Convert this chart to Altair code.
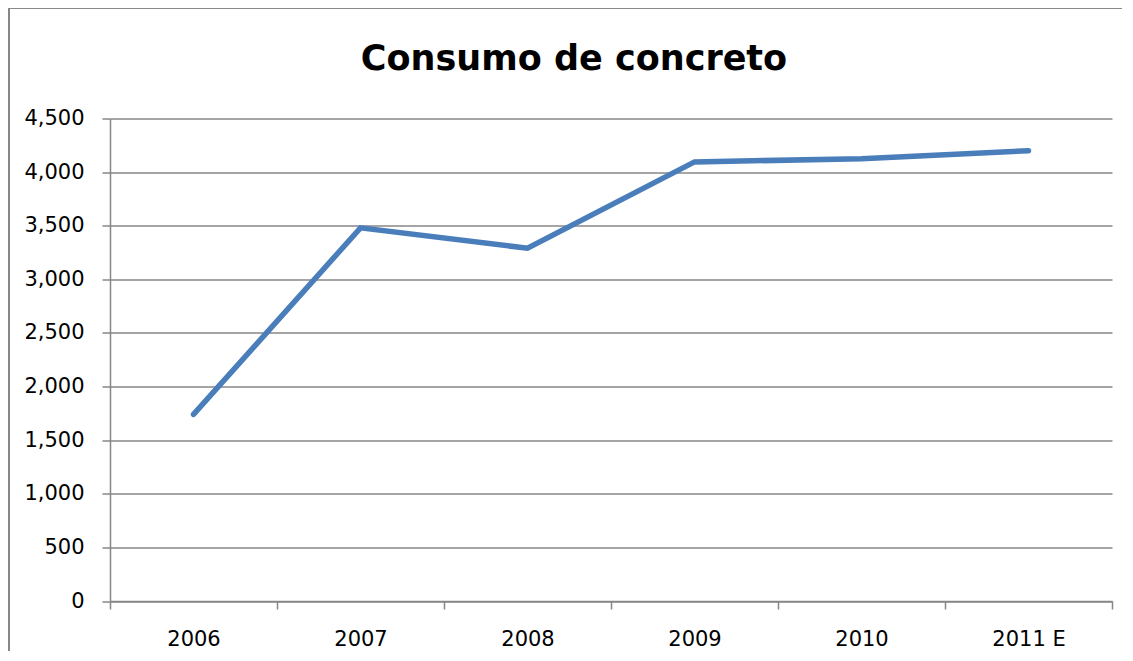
import altair as alt
import pandas as pd

years = ["2006", "2007", "2008", "2009", "2010", "2011 E"]
consumo = [1740, 3480, 3290, 4095, 4125, 4200]
y_ticks = [0, 500, 1000, 1500, 2000, 2500, 3000, 3500, 4000, 4500]
title_text = "Consumo de concreto"

df = pd.DataFrame({"year": years, "value": consumo})

GRAY = "#878787"
FONT = "DejaVu Sans"
W, H = 1002, 482.5

line = alt.Chart(df).mark_line(
    color="#4a7ebb", strokeWidth=5.5, strokeCap="round", strokeJoin="miter"
).encode(
    x=alt.X("year:N", sort=years, bandPosition=0.5,
            scale=alt.Scale(type="band", paddingInner=0, paddingOuter=0),
            axis=alt.Axis(title=None, labelAngle=0, tickBand="extent", grid=False,
                          domainColor=GRAY, domainWidth=1.5, tickColor=GRAY,
                          tickWidth=1.5, tickSize=8, labelPadding=19,
                          labelFont=FONT, labelFontSize=21, labelColor="#000000")),
    y=alt.Y("value:Q",
            scale=alt.Scale(domain=[0, 4500], nice=False),
            axis=alt.Axis(title=None, values=y_ticks, format=",.0f", grid=True,
                          gridColor=GRAY, gridWidth=1.5, domainColor=GRAY,
                          domainWidth=1.5, tickColor=GRAY, tickWidth=1.5,
                          tickSize=8, labelPadding=18, labelFont=FONT,
                          labelFontSize=21, labelColor="#000000")),
)

frame_left = alt.Chart(df).mark_rule(color=GRAY, strokeWidth=2, clip=False).encode(
    x=alt.value(-101), y=alt.value(-111), y2=alt.value(H + 50)
)
frame_top = alt.Chart(df).mark_rule(color=GRAY, strokeWidth=2, clip=False).encode(
    x=alt.value(-101), x2=alt.value(W + 10), y=alt.value(-111)
)

title = alt.Chart(pd.DataFrame({"t": [title_text]})).mark_text(
    font=FONT, fontSize=35, fontWeight="bold", color="#000000",
    align="center", baseline="alphabetic", clip=False
).encode(text="t:N", x=alt.value(W / 2 - 37), y=alt.value(-48.5))

chart = alt.layer(frame_left, frame_top, line, title).properties(
    width=W, height=H,
    autosize=alt.AutoSizeParams(type="none"),
    padding={"left": 102, "top": 110.5, "right": 10, "bottom": 50},
).configure_view(stroke=None)

chart.save("out.html", embed_options={"renderer": "svg", "actions": False})
